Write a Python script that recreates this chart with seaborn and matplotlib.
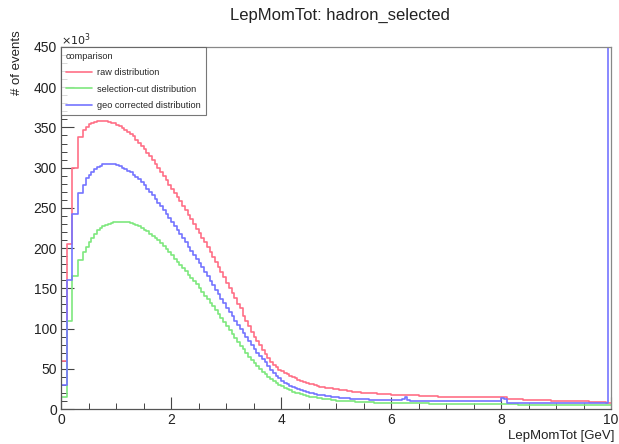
import numpy as np
import pandas as pd
import matplotlib
matplotlib.use("Agg")
import matplotlib.pyplot as plt
import seaborn as sns
from matplotlib.ticker import MultipleLocator

sns.set_style("white")
plt.rcParams['font.family'] = ['Liberation Sans', 'DejaVu Sans']

# histogram: 200 bins of 0.05 GeV from 0 to 10, counts in units of 10^3
bin_edges = [round(0.05 * i, 2) for i in range(201)]

raw_counts = [
    60, 60, 205, 205, 300, 300, 338, 338, 347, 351,
    354, 356, 357, 358, 358, 358, 357.5, 357, 356, 355,
    353, 352, 349, 347, 344, 342, 339, 335, 331, 327,
    323, 318, 314, 309, 305, 300, 295, 290, 285, 279,
    274, 268, 263, 258, 252, 247, 241, 236, 230, 224,
    219, 213, 207, 201, 195, 189, 183, 177, 170, 164,
    157, 151, 144, 138, 131, 125, 116, 110, 103, 96,
    90, 84, 79, 73, 68, 63, 59, 55, 52, 49,
    47, 45, 43, 41, 39.5, 38, 36.5, 35, 34, 32.5,
    31.5, 30.5, 29.5, 28.5, 27.5, 27, 26.5, 26, 25.5, 25,
    24.5, 24, 23.5, 23, 22.5, 22, 21.5, 21, 21, 20.5,
    20.5, 20, 20, 19.5, 19.5, 19, 19, 19, 18.5, 18.5,
    18, 18, 18, 18, 17.5, 17.5, 17.5, 17, 17, 17,
    16.5, 16.5, 16.5, 16, 16, 16, 16, 15.5, 15.5, 15.5,
    15, 15, 15, 15, 15, 15, 15, 15, 15, 15,
    15, 15, 15, 15, 15, 15, 15, 15, 15, 15,
    15, 15, 12, 12, 12, 12, 12, 12, 11.5, 11.5,
    11.5, 11.5, 11, 11, 11, 11, 11, 11, 10.5, 10.5,
    10.5, 10.5, 10, 10, 10, 10, 10, 10, 9.5, 9.5,
    9.5, 9.5, 9, 9, 9, 9, 8.5, 8.5, 8, 8,
]

selection_counts = [
    15, 15, 110, 110, 165, 165, 185, 185, 195, 202,
    208, 213, 218, 222, 225, 227, 229, 230.5, 231.5, 232.5,
    233, 233, 233, 232.5, 232, 231, 230, 228.5, 227, 225,
    223, 221, 218, 215.5, 212.5, 209.5, 206, 202.5, 199, 195,
    191, 187, 183, 179, 175, 171, 167, 163, 159, 155,
    150, 146, 141, 137, 132, 128, 123, 118, 113, 108,
    103, 98, 93, 88, 83, 78.5, 74, 69.5, 65, 61,
    57, 53, 49.5, 46, 43, 40, 37, 34.5, 32, 30,
    28, 26, 24.5, 23, 21.5, 20.5, 19.5, 18.5, 17.5, 16.5,
    15.5, 15, 14.5, 14, 13.5, 13, 12.5, 12, 11.5, 11,
    10.5, 10.5, 10, 10, 9.5, 9.5, 9.5, 9, 9, 9,
    8.5, 8.5, 8.5, 8.5, 8, 8, 8, 8, 8, 8,
    7.5, 7.5, 7.5, 7.5, 7.5, 7.5, 7, 7, 7, 7,
    7, 7, 7, 7, 6.5, 6.5, 6.5, 6.5, 6.5, 6.5,
    6.5, 6.5, 6.5, 6.5, 6.5, 6.5, 6, 6, 6, 6,
    6, 6, 6, 6, 6, 6, 6, 6, 6, 6,
    6, 6, 6, 6, 6, 6, 5.5, 5.5, 5.5, 5.5,
    5.5, 5.5, 5.5, 5.5, 5.5, 5.5, 5.5, 5.5, 5.5, 5.5,
    5.5, 5.5, 5, 5, 5, 5, 5, 5, 5, 5,
    5, 5, 5, 5, 5, 5, 5, 5, 5, 5,
]

geo_counts = [
    30, 30, 160, 160, 243, 243, 268, 268, 279, 287,
    291, 295, 298, 300.5, 302.5, 304, 305, 305, 304.5, 304,
    303, 301.5, 300, 298, 296, 294, 291.5, 288.5, 285.5, 282,
    278, 274, 270, 265.5, 261, 256.5, 252, 247, 242, 237,
    232, 227, 222, 217, 212, 207, 202, 197, 192, 187,
    181, 176, 170, 165, 159, 154, 148, 143, 137, 132,
    126, 121, 115, 110, 104, 99, 94, 89, 84, 79,
    74, 70, 66, 62, 58, 54, 49, 45, 41.5, 38,
    35, 32.5, 30.5, 28.5, 27, 25.5, 24.5, 23, 22, 21,
    20, 19.5, 18.5, 18, 17.5, 17, 16.5, 16, 15.5, 15,
    14.5, 14, 14, 13.5, 13.5, 13, 13, 12.5, 12.5, 12,
    12, 12, 11.5, 11.5, 11.5, 11.5, 11, 11, 11, 11,
    11, 11, 11, 11, 13, 15, 11, 10.5, 10.5, 10.5,
    10.5, 10.5, 10.5, 10.5, 10, 10, 10, 10, 10, 10,
    10, 10, 10, 10, 10, 10, 10, 10, 10, 10,
    10, 10, 10, 10, 9.5, 9.5, 9.5, 9.5, 9.5, 9.5,
    14, 12, 8, 8, 8, 8, 8, 8, 8, 8,
    8, 8, 8, 8, 7.5, 7.5, 7.5, 7.5, 7.5, 7.5,
    7.5, 7.5, 7.5, 7.5, 7.5, 7.5, 7, 7, 7, 7,
    7, 7, 7, 7, 7, 7, 7, 7, 7, 2000,
]

labels = ["raw distribution", "selection-cut distribution", "geo corrected distribution"]
colors = ["#ff6f86", "#7ee87e", "#7474ff"]

centers = [(a + b) / 2 for a, b in zip(bin_edges[:-1], bin_edges[1:])]

fig = plt.figure(figsize=(6.19, 4.44), dpi=100)
ax = fig.add_axes([61 / 619, 1 - 409 / 444, 550 / 619, 362 / 444])

for counts, lab, col in zip([raw_counts, selection_counts, geo_counts], labels, colors):
    df = pd.DataFrame({"mom": centers, "n": counts})
    sns.histplot(data=df, x="mom", weights="n", bins=bin_edges, element="step",
                 fill=False, color=col, linewidth=1.2, label=lab, ax=ax)

ax.set_xlim(0, 10)
ax.set_ylim(0, 450)
ax.xaxis.set_major_locator(MultipleLocator(2))
ax.xaxis.set_minor_locator(MultipleLocator(0.5))
ax.yaxis.set_major_locator(MultipleLocator(50))
ax.yaxis.set_minor_locator(MultipleLocator(10))
ax.tick_params(axis="both", which="both", direction="in", bottom=True, left=True,
               top=False, right=False, labelsize=10, colors="#444444",
               labelcolor="#222222")
ax.tick_params(axis="both", which="major", length=9, width=0.8, pad=3)
ax.tick_params(axis="both", which="minor", length=4.5, width=0.7)
for sp in ax.spines.values():
    sp.set_color("#888888")
    sp.set_linewidth(0.9)
ax.spines["left"].set_color("#555555")
ax.spines["bottom"].set_color("#555555")

ax.set_xlabel("")
ax.set_ylabel("")
fig.text(614 / 619, 1 - 436 / 444, "LepMomTot [GeV]", ha="right", va="center",
         fontsize=9.5, color="#222222")
fig.text(17 / 619, 1 - 30 / 444, "# of events", ha="center", va="top",
         rotation=90, fontsize=9.5, color="#222222")
fig.text(61 / 619, 1 - 40 / 444, r"$\times10^{3}$", ha="left", va="center",
         fontsize=8, color="#222222")
fig.text(340 / 619, 1 - 15 / 444, "LepMomTot: hadron_selected", ha="center",
         va="center", fontsize=12, color="#222222")

leg = ax.legend(title="comparison", loc="upper left", bbox_to_anchor=(0, 1),
                fontsize=6.6, title_fontsize=6.6, frameon=True, fancybox=False,
                borderaxespad=0, handlelength=2.8, handletextpad=0.6,
                labelspacing=0.8, borderpad=0.55)
leg._legend_box.align = "left"
leg.get_frame().set_edgecolor("#555555")
leg.get_frame().set_linewidth(0.8)

fig.savefig("out.png", dpi=100)
